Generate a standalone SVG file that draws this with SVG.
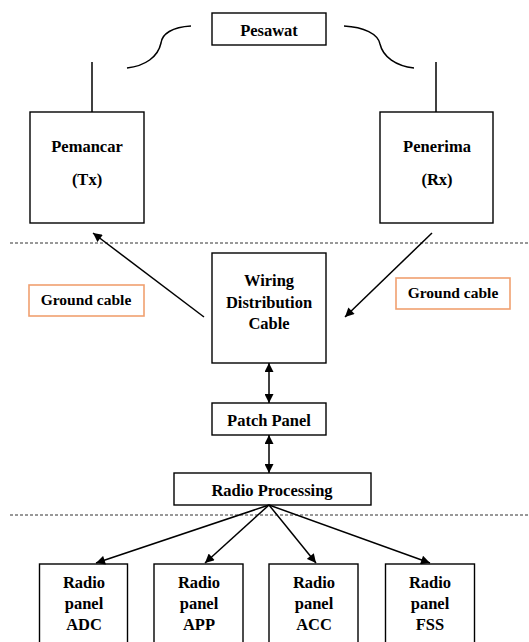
<svg xmlns="http://www.w3.org/2000/svg" width="529" height="642" viewBox="0 0 529 642">
<defs>
<style>
.box{fill:#fff;stroke:#000;stroke-width:1.4}
.gbox{fill:#fff;stroke:#f0a070;stroke-width:1.6}
.t{font-family:"Liberation Serif","Times New Roman",serif;font-weight:bold;font-size:16.5px;text-anchor:middle;fill:#000}
.g{font-size:15.5px}
.ln{stroke:#000;stroke-width:1.5;fill:none}
.dash{stroke:#333;stroke-width:1;stroke-dasharray:3 2}
</style>
<marker id="ah" viewBox="0 0 10 10" refX="10" refY="5" markerWidth="11" markerHeight="9" markerUnits="userSpaceOnUse" orient="auto-start-reverse">
<path d="M0,0 L10,5 L0,10 z" fill="#000"/>
</marker>
</defs>
<rect width="529" height="642" fill="#fff"/>

<line class="dash" x1="10" y1="243" x2="529" y2="243"/>
<line class="dash" x1="10" y1="515" x2="529" y2="515"/>

<g id="pesawat"><rect class="box" x="212" y="13" width="114" height="32"/><text class="t" x="269" y="36">Pesawat</text></g>
<g id="pemancar"><rect class="box" x="30" y="112" width="114" height="111"/><text class="t" x="87" y="152">Pemancar</text><text class="t" x="87" y="185">(Tx)</text></g>
<g id="penerima"><rect class="box" x="380" y="112" width="113" height="111"/><text class="t" x="437" y="152">Penerima</text><text class="t" x="437" y="185">(Rx)</text></g>
<g id="ground-left"><rect class="gbox" x="29" y="285" width="115" height="31"/><text class="t g" x="86" y="305">Ground cable</text></g>
<g id="ground-right"><rect class="gbox" x="396" y="278" width="114" height="31"/><text class="t g" x="453" y="298">Ground cable</text></g>
<g id="wiring"><rect class="box" x="212" y="253" width="114" height="110"/><text class="t" x="269" y="286">Wiring</text><text class="t" x="269" y="308">Distribution</text><text class="t" x="269" y="329">Cable</text></g>
<g id="patch"><rect class="box" x="212" y="403" width="114" height="32"/><text class="t" x="269" y="426">Patch Panel</text></g>
<g id="radioproc"><rect class="box" x="174" y="473" width="197" height="32"/><text class="t" x="272" y="496">Radio Processing</text></g>
<g id="adc"><rect class="box" x="39.5" y="564" width="88" height="90"/><text class="t" x="84" y="588">Radio</text><text class="t" x="84" y="609">panel</text><text class="t" x="84" y="630">ADC</text></g>
<g id="app"><rect class="box" x="154" y="564" width="89" height="90"/><text class="t" x="199" y="588">Radio</text><text class="t" x="199" y="609">panel</text><text class="t" x="199" y="630">APP</text></g>
<g id="acc"><rect class="box" x="269" y="564" width="89" height="90"/><text class="t" x="314" y="588">Radio</text><text class="t" x="314" y="609">panel</text><text class="t" x="314" y="630">ACC</text></g>
<g id="fss"><rect class="box" x="385.5" y="564" width="89" height="90"/><text class="t" x="430" y="588">Radio</text><text class="t" x="430" y="609">panel</text><text class="t" x="430" y="630">FSS</text></g>

<g id="connectors">
<line class="ln" x1="92" y1="62" x2="92" y2="112"/>
<line class="ln" x1="436" y1="62" x2="436" y2="112"/>
<path class="ln" d="M191,26 C172,27 162,34 161,43 C158,57 145,66 127,68"/>
<path class="ln" d="M344,26 C364,27 378,34 380,44 C383,57 396,66 414,68"/>
<line class="ln" x1="204" y1="317" x2="93" y2="233" marker-end="url(#ah)"/>
<line class="ln" x1="432" y1="233" x2="345" y2="317" marker-end="url(#ah)"/>
<line class="ln" x1="269" y1="363" x2="269" y2="403" marker-start="url(#ah)" marker-end="url(#ah)"/>
<line class="ln" x1="269" y1="435" x2="269" y2="473" marker-start="url(#ah)" marker-end="url(#ah)"/>
<line class="ln" x1="269" y1="505" x2="96" y2="563" marker-end="url(#ah)"/>
<line class="ln" x1="269" y1="505" x2="205" y2="563" marker-end="url(#ah)"/>
<line class="ln" x1="269" y1="505" x2="316" y2="563" marker-end="url(#ah)"/>
<line class="ln" x1="269" y1="505" x2="430" y2="563" marker-end="url(#ah)"/>
</g>
</svg>
